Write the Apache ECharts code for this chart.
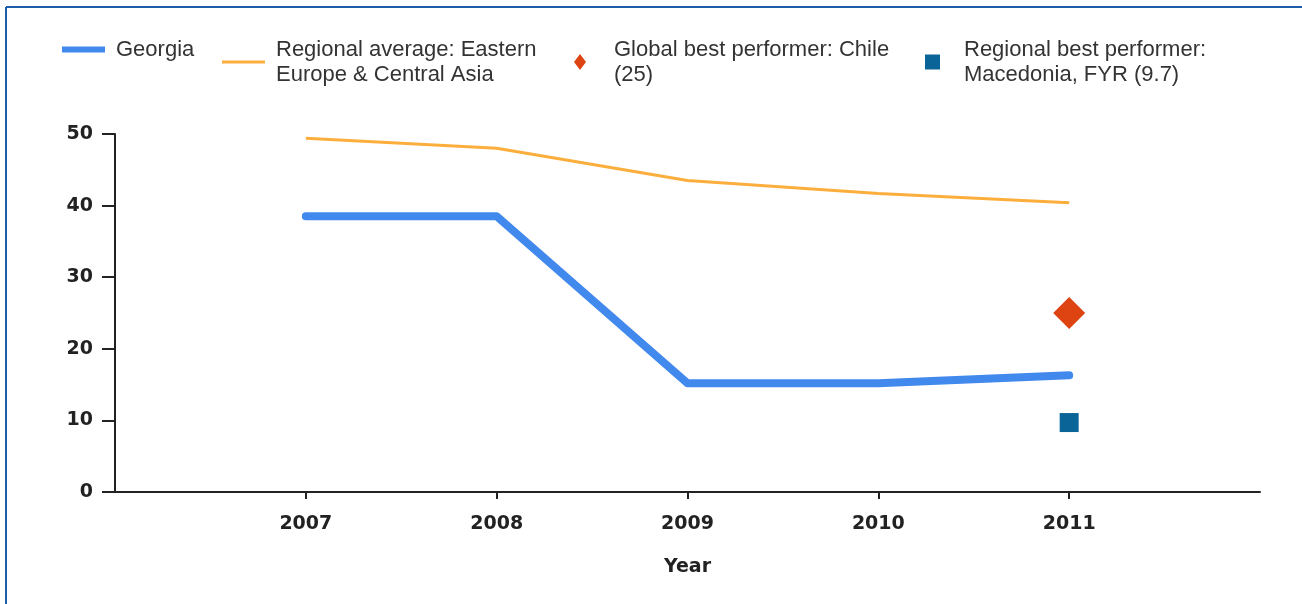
<!DOCTYPE html>
<html>
<head>
<meta charset="utf-8">
<script src="https://cdn.jsdelivr.net/npm/echarts@6/dist/echarts.min.js"></script>
<style>
  html, body { margin: 0; padding: 0; background: #fff; }
  #chart { width: 1302px; height: 604px; }
</style>
</head>
<body>
<div id="chart"></div>
<script>
// data
var years = [2007, 2008, 2009, 2010, 2011];
var georgia = [38.5, 38.5, 15.2, 15.2, 16.3];
var regionalAvg = [49.4, 48.0, 43.5, 41.7, 40.4];
var chileYear = 2011, chileValue = 25;
var macedoniaYear = 2011, macedoniaValue = 9.7;

var seriesNames = [
  'Georgia',
  'Regional average: Eastern Europe & Central Asia',
  'Global best performer: Chile (25)',
  'Regional best performer: Macedonia, FYR (9.7)'
];
var legendLabels = [
  'Georgia',
  'Regional average: Eastern\nEurope & Central Asia',
  'Global best performer: Chile\n(25)',
  'Regional best performer:\nMacedonia, FYR (9.7)'
];

function pairs(xs, ys) {
  return xs.map(function (x, i) { return [x, ys[i]]; });
}

var legendText = {
  fontFamily: 'Liberation Sans',
  fontSize: 22,
  lineHeight: 25,
  color: '#333'
};

function legendFor(i, left, top, w, h, padLeft, extra) {
  var lg = {
    data: [seriesNames[i]],
    left: left,
    top: top,
    padding: 0,
    itemWidth: w,
    itemHeight: h,
    selectedMode: false,
    formatter: function () { return legendLabels[i]; },
    textStyle: Object.assign({ padding: [0, 0, 0, padLeft] }, legendText)
  };
  return Object.assign(lg, extra || {});
}

var axisFont = {
  fontFamily: 'DejaVu Sans',
  fontWeight: 'bold',
  fontSize: 19,
  color: '#222'
};

var chart = echarts.init(document.getElementById('chart'));
chart.setOption({
  backgroundColor: '#fff',
  animation: false,
  graphic: [
    { type: 'line', shape: { x1: 6, y1: 7, x2: 1302, y2: 7 }, style: { stroke: '#1c5ca8', lineWidth: 2 } },
    { type: 'line', shape: { x1: 6, y1: 7, x2: 6, y2: 604 }, style: { stroke: '#1c5ca8', lineWidth: 2 } }
  ],
  legend: [
    legendFor(0, 62, 37, 43, 6, 6, { icon: 'rect' }),
    legendFor(1, 222, 37, 43, 3, 6, { icon: 'rect' }),
    legendFor(2, 574, 37, 12, 16, 23, { icon: 'diamond' }),
    legendFor(3, 925, 37, 15, 15, 19, { icon: 'rect' })
  ],
  grid: { left: 115, right: 42, top: 134, bottom: 112 },
  xAxis: {
    type: 'value',
    min: 2006,
    max: 2012,
    interval: 1,
    name: 'Year',
    nameLocation: 'middle',
    nameGap: 66,
    nameTextStyle: axisFont,
    axisLine: { show: true, lineStyle: { color: '#222', width: 2 } },
    axisTick: { show: true, length: 7, lineStyle: { color: '#222', width: 2 } },
    splitLine: { show: false },
    axisLabel: Object.assign({
      margin: 23,
      showMinLabel: false,
      showMaxLabel: false,
      formatter: function (v) { return years.indexOf(v) >= 0 ? String(v) : ''; }
    }, axisFont)
  },
  yAxis: {
    type: 'value',
    min: 0,
    max: 50,
    interval: 10,
    axisLine: { show: true, lineStyle: { color: '#222', width: 2 } },
    axisTick: { show: true, length: 13, lineStyle: { color: '#222', width: 2 } },
    splitLine: { show: false },
    axisLabel: Object.assign({ margin: 22 }, axisFont)
  },
  series: [
    {
      name: seriesNames[0],
      type: 'line',
      data: pairs(years, georgia),
      symbol: 'none',
      color: '#4289ee',
      lineStyle: { width: 8, color: '#4289ee', cap: 'round', join: 'round' },
      z: 3
    },
    {
      name: seriesNames[1],
      type: 'line',
      data: pairs(years, regionalAvg),
      symbol: 'none',
      color: '#fbae3c',
      lineStyle: { width: 3, color: '#fbae3c' },
      z: 2
    },
    {
      name: seriesNames[2],
      type: 'scatter',
      data: [[chileYear, chileValue]],
      symbol: 'diamond',
      symbolSize: 32,
      itemStyle: { color: '#dd4411', opacity: 1 },
      z: 4
    },
    {
      name: seriesNames[3],
      type: 'scatter',
      data: [[macedoniaYear, macedoniaValue]],
      symbol: 'rect',
      symbolSize: 19,
      itemStyle: { color: '#0b6497', opacity: 1 },
      z: 4
    }
  ]
});
</script>
</body>
</html>
